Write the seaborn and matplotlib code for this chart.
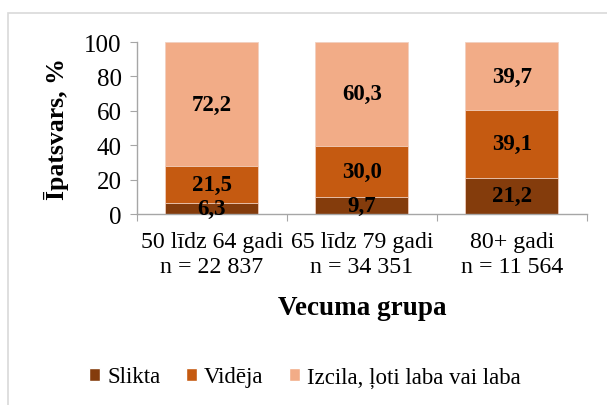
import pandas as pd
import seaborn as sns
import matplotlib.pyplot as plt
from matplotlib.patches import Rectangle, Patch

# data
groups = ['50 līdz 64 gadi\nn = 22 837', '65 līdz 79 gadi\nn = 34 351', '80+ gadi\nn = 11 564']
slikta = [6.3, 9.7, 21.2]
videja = [21.5, 30.0, 39.1]
laba = [72.2, 60.3, 39.7]
series_names = ['Slikta', 'Vidēja', 'Izcila, ļoti laba vai laba']
colors = ['#843C0C', '#C55A11', '#F2AC87']

sns.set_style('white')
plt.rcParams['font.family'] = ['Liberation Serif', 'DejaVu Serif']
plt.rcParams['text.color'] = 'black'
plt.rcParams['axes.labelcolor'] = 'black'
plt.rcParams['xtick.color'] = 'black'
plt.rcParams['ytick.color'] = 'black'

df = pd.DataFrame({'group': groups, 'Slikta': slikta, 'Vidēja': videja, 'Laba': laba})
df['cum1'] = df['Slikta']
df['cum2'] = df['Slikta'] + df['Vidēja']
df['cum3'] = df['cum2'] + df['Laba']

fig = plt.figure(figsize=(6.07, 4.06), dpi=100)
ax = fig.add_axes([0.2257, 0.4704, 0.7413, 0.4236])

# stacked bars: draw cumulative totals from the top down
for col, c in zip(['cum3', 'cum2', 'cum1'], colors[::-1]):
    sns.barplot(data=df, x='group', y=col, color=c, width=0.62, ax=ax,
                edgecolor='#F2D0C0', linewidth=0.6, saturation=1)

# value labels centred in each segment
for i in range(len(groups)):
    lows = [0, df['cum1'][i], df['cum2'][i]]
    vals = [slikta[i], videja[i], laba[i]]
    for lo, v in zip(lows, vals):
        ax.text(i, lo + v / 2, f'{v:.1f}'.replace('.', ','), ha='center', va='center',
                fontsize=16.5, fontweight='bold', color='black')

ax.set_ylim(0, 100)
ax.set_xlim(-0.5, 2.5)
ax.set_yticks([0, 20, 40, 60, 80, 100])
ax.set_ylabel('Īpatsvars, %', fontsize=18.5, fontweight='bold', labelpad=11)
ax.set_xlabel('Vecuma grupa', fontsize=19.5, fontweight='bold', labelpad=13)

for s in ['top', 'right']:
    ax.spines[s].set_visible(False)
for s in ['left', 'bottom']:
    ax.spines[s].set_color('#A6A6A6')
    ax.spines[s].set_linewidth(1)

ax.tick_params(axis='y', labelsize=18, length=5, color='#A6A6A6', direction='out', left=True, pad=6)
# x ticks on the category boundaries, labels in the middle
ax.set_xticks([-0.5, 0.5, 1.5, 2.5])
ax.set_xticklabels([])
ax.set_xticks([0, 1, 2], minor=True)
ax.set_xticklabels(groups, minor=True, fontsize=17.2, linespacing=1.28)
ax.tick_params(axis='x', which='major', length=5, color='#A6A6A6', direction='out', bottom=True)
ax.tick_params(axis='x', which='minor', length=0, pad=12)

handles = [Patch(facecolor=c, label=n) for c, n in zip(colors, series_names)]
fig.legend(handles=handles, loc='center', bbox_to_anchor=(0.502, 0.069), ncol=3,
           frameon=False, fontsize=16.5, handlelength=0.5, handleheight=0.5,
           handletextpad=0.3, columnspacing=1.1)

# chart border, only top and left visible as in the reference
fig.patches.append(Rectangle((8 / 607, -0.1), 1.2, 1 - 14 / 406 + 0.1, transform=fig.transFigure,
                             fill=False, edgecolor='#D9D9D9', linewidth=1.2))

fig.savefig('out.png', dpi=100)
